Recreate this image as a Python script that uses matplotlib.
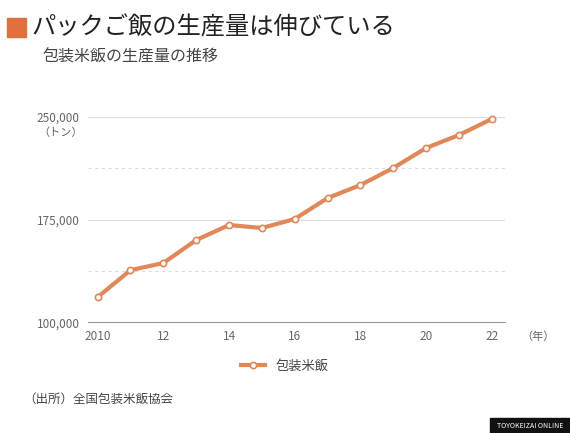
import matplotlib.pyplot as plt
from matplotlib.patches import Rectangle

plt.rcParams['font.family'] = ['Noto Sans CJK JP', 'DejaVu Sans']

years = list(range(2010, 2023))
production = [118300, 138000, 143200, 160000, 171000, 168800, 175400,
              190700, 200200, 212700, 227300, 236800, 248500]
xtick_years = [2010, 2012, 2014, 2016, 2018, 2020, 2022]
xtick_labels = ["2010", "12", "14", "16", "18", "20", "22"]
ytick_vals = [100000, 175000, 250000]

orange = "#e0885a"
fig = plt.figure(figsize=(5.7, 4.33), dpi=100)
ax = fig.add_axes([0.154, 0.256, 0.732, 0.474])

ax.plot(years, production, color=orange, lw=3, marker="o", ms=4.5,
        mfc="white", mec=orange, mew=1.2, clip_on=False, zorder=3, label="包装米飯")
ax.set_xlim(2009.7, 2022.4)
ax.set_ylim(100000, 250000)
ax.set_yticks(ytick_vals)
ax.set_yticklabels([f"{v:,}" for v in ytick_vals], color="#666", fontsize=8.5)
ax.set_xticks(xtick_years)
ax.set_xticklabels(xtick_labels, color="#666", fontsize=8.5)
for v in ytick_vals[1:]:
    ax.axhline(v, color="#dddddd", lw=0.8, zorder=0)
for v in [137500, 212500]:
    ax.axhline(v, color="#dddddd", lw=0.8, ls=(0, (3, 3)), zorder=0)
for s in ["top", "right", "left"]:
    ax.spines[s].set_visible(False)
ax.spines["bottom"].set_color("#999")
ax.tick_params(length=0, pad=6)

fig.text(0.068, 0.685, "（トン）", fontsize=8, color="#666")
fig.text(0.915, 0.215, "（年）", fontsize=8, color="#666")

fig.patches.append(Rectangle((0.012, 0.915), 0.033, 0.043, transform=fig.transFigure,
                             color="#e0703c"))
fig.text(0.055, 0.937, "パックご飯の生産量は伸びている", fontsize=17.5, va="center", color="#222")
fig.text(0.075, 0.868, "包装米飯の生産量の推移", fontsize=11.5, va="center", color="#444")

fig.legend(loc="center", bbox_to_anchor=(0.5, 0.155), frameon=False, fontsize=9.5,
           handlelength=1.8, labelcolor="#444")
fig.text(0.04, 0.078, "（出所）全国包装米飯協会", fontsize=9, color="#444", va="center")

fig.patches.append(Rectangle((0.86, 0.0), 0.14, 0.035, transform=fig.transFigure, color="#111"))
fig.text(0.93, 0.017, "TOYOKEIZAI ONLINE", fontsize=5, color="white",
         ha="center", va="center")

fig.savefig("out.png", dpi=100, facecolor="white")
